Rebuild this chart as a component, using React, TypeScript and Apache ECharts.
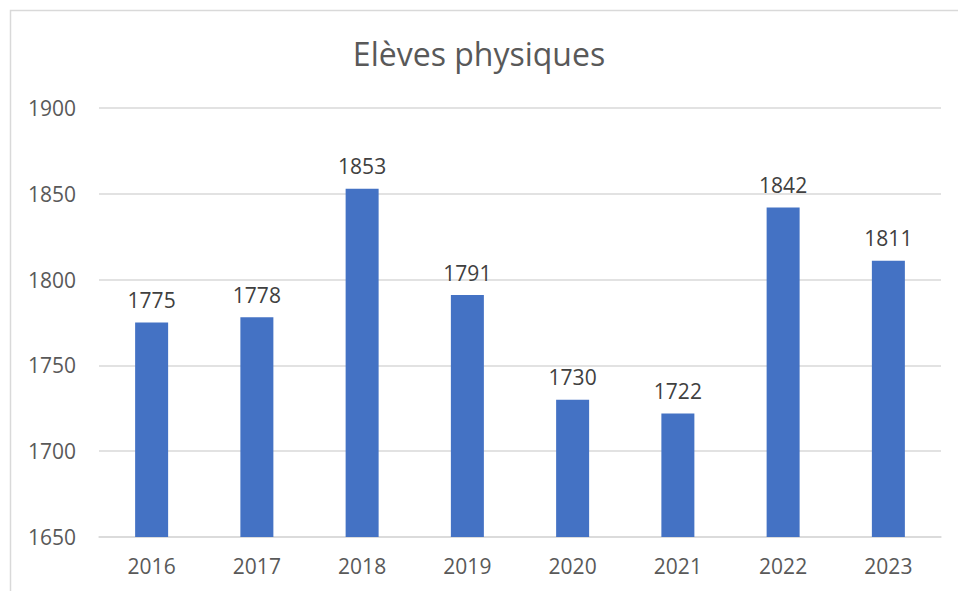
import React, { useEffect, useRef } from "react";
import * as echarts from "echarts";

const categories = ["2016", "2017", "2018", "2019", "2020", "2021", "2022", "2023"];
const values = [1775, 1778, 1853, 1791, 1730, 1722, 1842, 1811];
const titleText = "Elèves physiques";

export default function App() {
  const ref = useRef<HTMLDivElement>(null);
  useEffect(() => {
    document.body.style.margin = "0";
    const chart = echarts.init(ref.current!, null, { renderer: "svg" });
    chart.setOption({
      animation: false,
      backgroundColor: "#ffffff",
      title: {
        text: titleText,
        left: "center",
        top: 32,
        textStyle: { fontFamily: "Open Sans", fontSize: 32, fontWeight: "normal", color: "#595959" },
      },
      graphic: [
        {
          type: "rect",
          shape: { x: 10.5, y: 10.5, width: 1000, height: 700 },
          style: { fill: "none", stroke: "#d9d9d9", lineWidth: 1.5 },
          silent: true,
        },
      ],
      grid: { left: 99, right: 17, top: 108, bottom: 54 },
      xAxis: {
        type: "category",
        data: categories,
        axisLine: { lineStyle: { color: "#d9d9d9", width: 1.5 } },
        axisTick: { show: false },
        axisLabel: { fontFamily: "Open Sans", fontSize: 21, color: "#595959", margin: 18 },
      },
      yAxis: {
        type: "value",
        min: 1650,
        max: 1900,
        interval: 50,
        axisLine: { show: false },
        axisTick: { show: false },
        splitLine: { lineStyle: { color: "#d9d9d9", width: 1.5 } },
        axisLabel: {
          fontFamily: "Open Sans",
          fontSize: 21,
          color: "#595959",
          margin: 23,
          formatter: (v: number) => String(v),
        },
      },
      series: [
        {
          type: "bar",
          data: values,
          barWidth: 33,
          itemStyle: { color: "#4472C4" },
          label: {
            show: true,
            position: "top",
            distance: 12,
            fontFamily: "Open Sans",
            fontSize: 21,
            color: "#404040",
          },
        },
      ],
    });
    return () => chart.dispose();
  }, []);
  return <div ref={ref} style={{ position: "absolute", left: 0, top: 0, width: 958, height: 591 }} />;
}
